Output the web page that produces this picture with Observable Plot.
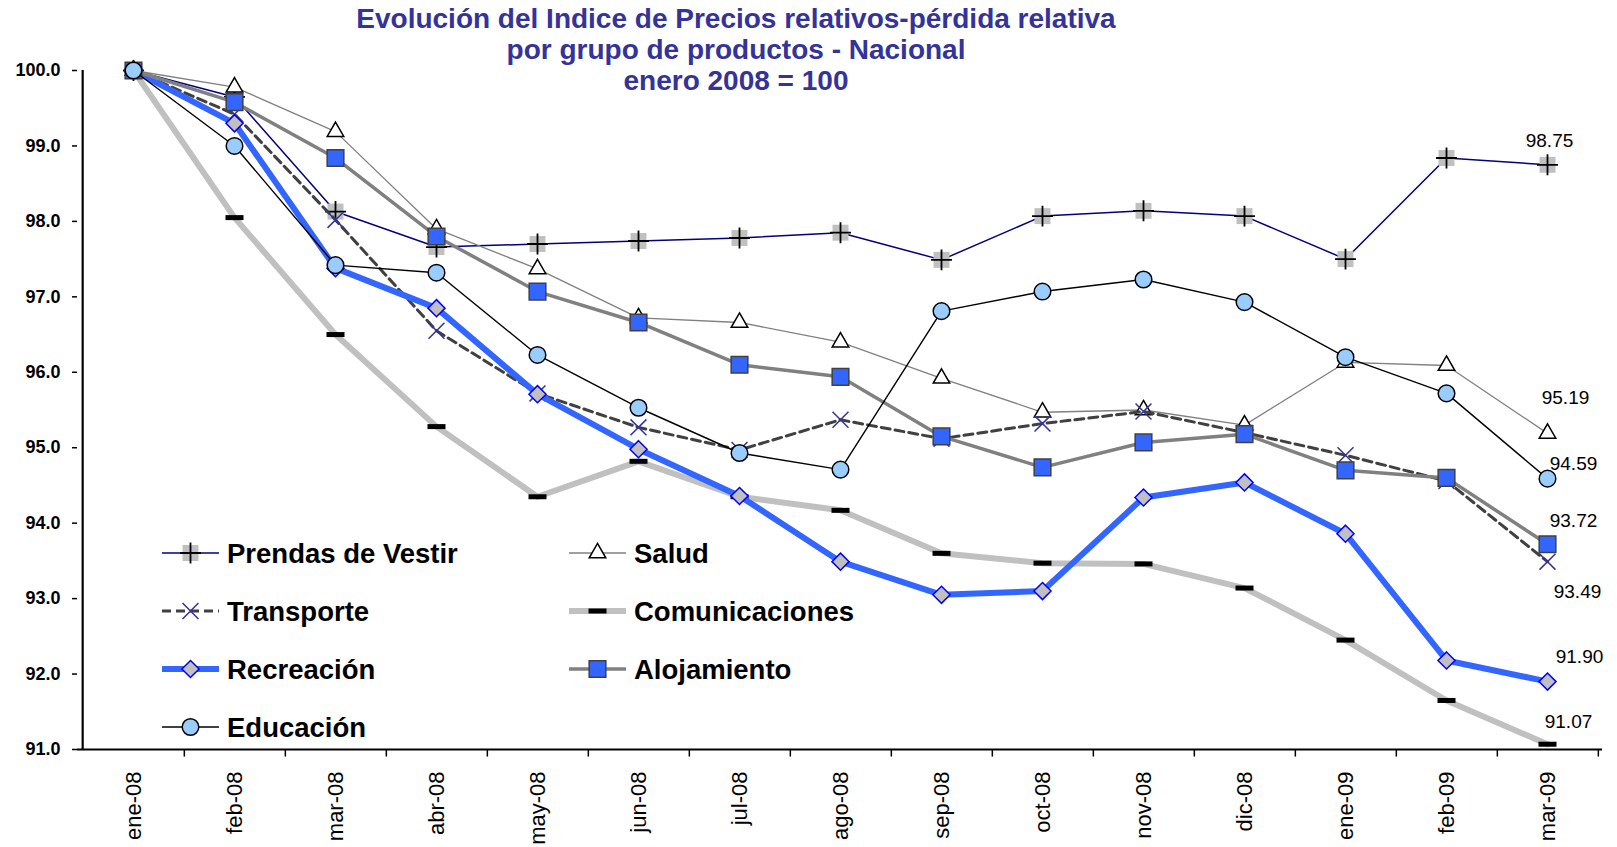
<!DOCTYPE html>
<html><head><meta charset="utf-8">
<script src="https://cdn.jsdelivr.net/npm/d3@7"></script>
<script src="https://cdn.jsdelivr.net/npm/@observablehq/plot@0.6"></script>
<style>
body{margin:0;background:#fff;font-family:"Liberation Sans",Arial,sans-serif;}
#wrap{position:relative;width:1617px;height:847px;overflow:hidden;background:#fff}
#title{position:absolute;left:0;width:1472px;top:3px;text-align:center;color:#333399;font-weight:bold;font-size:28px;line-height:31px}
#legend{position:absolute;left:0;top:0;pointer-events:none}
</style></head><body>
<div id="wrap"><div id="chart"></div><div id="title">Evolución del Indice de Precios relativos-pérdida relativa<br>por grupo de productos - Nacional<br>enero 2008 = 100</div><svg id="legend" width="1617" height="847"></svg></div>
<script>
// ---- data ----
const months = ["ene-08","feb-08","mar-08","abr-08","may-08","jun-08","jul-08","ago-08","sep-08","oct-08","nov-08","dic-08","ene-09","feb-09","mar-09"];
const seriesNames = ["Prendas de Vestir","Salud","Transporte","Comunicaciones","Recreación","Alojamiento","Educación"];
const prendas = [100, 99.65, 98.13, 97.66, 97.70, 97.74, 97.78, 97.85, 97.49, 98.07, 98.14, 98.07, 97.50, 98.84, 98.75];
const salud = [100, 99.78, 99.19, 97.90, 97.37, 96.72, 96.66, 96.40, 95.92, 95.47, 95.50, 95.30, 96.13, 96.09, 95.19];
const transporte = [100, 99.42, 98.02, 96.55, 95.72, 95.27, 94.97, 95.37, 95.12, 95.32, 95.48, 95.20, 94.90, 94.56, 93.49];
const comunicaciones = [100, 98.05, 96.50, 95.28, 94.35, 94.82, 94.35, 94.17, 93.60, 93.47, 93.46, 93.14, 92.45, 91.65, 91.07];
const recreacion = [100, 99.30, 97.38, 96.85, 95.71, 94.98, 94.36, 93.49, 93.05, 93.10, 94.34, 94.54, 93.86, 92.18, 91.90];
const alojamiento = [100, 99.58, 98.84, 97.80, 97.07, 96.66, 96.10, 95.94, 95.15, 94.74, 95.07, 95.18, 94.70, 94.60, 93.72];
const educacion = [100, 99.00, 97.42, 97.32, 96.23, 95.53, 94.93, 94.71, 96.81, 97.07, 97.23, 96.93, 96.20, 95.72, 94.59];
const yTicks = [91, 92, 93, 94, 95, 96, 97, 98, 99, 100];
const seriesValues = [prendas, salud, transporte, comunicaciones, recreacion, alojamiento, educacion];

// ---- styles ----
const dashSymbol = {draw(ctx){ ctx.rect(-9, -2.5, 18, 5); }};
const styles = [
  {stroke:"#000080", sw:1.5, dash:null, markers:[{symbol:"square", r:9, fill:"#C0C0C0", stroke:"none"},{symbol:"plus", r:6.8, fill:"none", stroke:"#000", sw:1.8}], label:{dx:2, dy:-24}},
  {stroke:"#808080", sw:1.3, dash:null, markers:[{symbol:"triangle2", r:7.9, fill:"#fff", stroke:"#000", sw:1.5}], label:{dx:18, dy:-35}},
  {stroke:"#404040", sw:3, dash:"9,5", markers:[{symbol:"times", r:7.3, fill:"none", stroke:"#333399", sw:1.5}], label:{dx:30, dy:30}},
  {stroke:"#C0C0C0", sw:6, dash:null, markers:[{symbol:dashSymbol, r:5, fill:"#000", stroke:"none"}], label:{dx:21, dy:-22}},
  {stroke:"#3366FF", sw:6, dash:null, markers:[{symbol:"diamond2", r:7.7, fill:"#C0C0C0", stroke:"#0000FF", sw:1.5}], label:{dx:32, dy:-25}},
  {stroke:"#808080", sw:3.5, dash:null, markers:[{symbol:"square", r:9.4, fill:"#3366FF", stroke:"#404040", sw:1.5}], label:{dx:26, dy:-23}},
  {stroke:"#000000", sw:1.4, dash:null, markers:[{symbol:"circle", r:8.3, fill:"#99CCFF", stroke:"#000", sw:1.5}], label:{dx:26, dy:-15}}
];

const W = 1617, H = 847, mL = 77, mR = 15, mT = 70, mB = 98;
const step = (W - mL - mR) / months.length;

const rows = seriesNames.map((name, i) => months.map((m, j) => ({series: name, month: m, value: seriesValues[i][j]})));

const marks = [];
// axes lines
marks.push(Plot.ruleY([91], {stroke:"#000", strokeWidth:2.2}));
marks.push(Plot.ruleX([months[0]], {dx: -step/2, y1: 91, y2: 100, stroke:"#000", strokeWidth:2.2}));
marks.push(Plot.ruleX(months, {x: d => d, dx: step/2, y1: 91, y2: 90.9, stroke:"#000", strokeWidth:1.5}));
marks.push(Plot.axisY({ticks: yTicks, tickFormat: d => d.toFixed(1), tickSize: 5, tickPadding: 12, fontSize: 18, fontWeight: "bold", strokeWidth: 1.5, label: null}));
marks.push(Plot.axisX({tickSize: 0, tickRotate: -90, tickPadding: 22, fontSize: 22, label: null}));

rows.forEach((data, i) => {
  const s = styles[i];
  marks.push(Plot.line(data, {x:"month", y:"value", stroke:s.stroke, strokeWidth:s.sw, strokeDasharray:s.dash, strokeLinejoin:"round"}));
  s.markers.forEach(mk => {
    marks.push(Plot.dot(data, {x:"month", y:"value", symbol: mk.symbol, r: mk.r, fill: mk.fill, stroke: mk.stroke, strokeWidth: mk.sw || 1}));
  });
});
rows.forEach((data, i) => {
  const s = styles[i];
  marks.push(Plot.text([data[data.length-1]], {x:"month", y:"value", text: d => d.value.toFixed(2), dx: s.label.dx, dy: s.label.dy, fontSize: 19, fill:"#000"}));
});

const chart = Plot.plot({
  width: W, height: H,
  marginLeft: mL, marginRight: mR, marginTop: mT, marginBottom: mB,
  x: {type: "point", domain: months, padding: 0.5},
  y: {domain: [91, 100]},
  style: {fontFamily: "'Liberation Sans', Arial, sans-serif", color: "#000", background: "transparent", overflow: "visible"},
  marks
});
document.getElementById("chart").appendChild(chart);

// ---- legend ----
const symMap = {square: d3.symbolSquare, plus: d3.symbolPlus, triangle2: d3.symbolTriangle2, times: d3.symbolTimes, diamond2: d3.symbolDiamond2, circle: d3.symbolCircle};
const legendSvg = d3.select("#legend");
const legendLayout = [
  {col:0,row:0},{col:1,row:0},{col:0,row:1},{col:1,row:1},{col:0,row:2},{col:1,row:2},{col:0,row:3}
];
const colX = [162, 569], rowY = [553, 611, 669, 727], sampleW = 57, textGap = 8;
seriesNames.forEach((name, i) => {
  const s = styles[i];
  const {col, row} = legendLayout[i];
  const x0 = colX[col], y = rowY[row];
  const g = legendSvg.append("g");
  g.append("line").attr("x1", x0).attr("x2", x0 + sampleW).attr("y1", y).attr("y2", y)
    .attr("stroke", s.stroke).attr("stroke-width", s.sw).attr("stroke-dasharray", s.dash);
  s.markers.forEach(mk => {
    const type = typeof mk.symbol === "string" ? symMap[mk.symbol] : mk.symbol;
    g.append("path").attr("transform", `translate(${x0 + sampleW/2},${y})`)
      .attr("d", d3.symbol(type, Math.PI * mk.r * mk.r)())
      .attr("fill", mk.fill).attr("stroke", mk.stroke).attr("stroke-width", mk.sw || 1);
  });
  g.append("text").attr("x", x0 + sampleW + textGap).attr("y", y).attr("dy", "0.35em")
    .attr("font-family", "'Liberation Sans', Arial, sans-serif").attr("font-weight", "bold").attr("font-size", 27.5)
    .text(name);
});
</script>
</body></html>
